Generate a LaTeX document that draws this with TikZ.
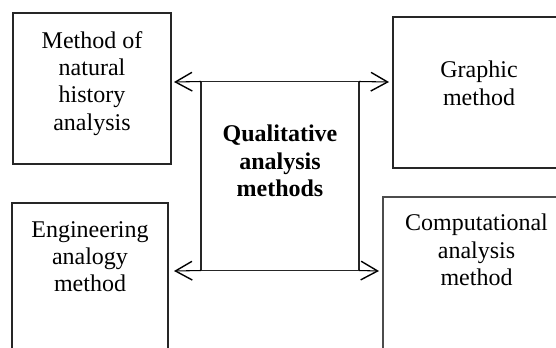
\documentclass[tikz,border=0pt]{standalone}
\usepackage{fontspec}
\setmainfont{Liberation Serif}
\usetikzlibrary{arrows.meta}
\begin{document}
\begin{tikzpicture}[x=0.75pt,y=-0.75pt,
  box/.style={draw=black!85, line width=0.8pt, inner sep=0pt, outer sep=0pt, rectangle},
  lbl/.style={font=\fontsize{18}{20.5}\selectfont, align=center, inner sep=0pt, anchor=north},
  arr/.style={-{Straight Barb[length=12.5pt,width=14pt,line width=1.05pt]}, line width=0.8pt, draw=black}]
\useasboundingbox (0,0) rectangle (556,347);
\clip (0,0) rectangle (556,347);
% boxes
\node[box, minimum width=118.5pt, minimum height=113.25pt] (b1) at (92,88.5) {};
\node[box, minimum width=129pt, minimum height=113.25pt] (b2) at (479,92.5) {};
\node[box, minimum width=117pt, minimum height=147.75pt] (b3) at (90,301.5) {};
\node[box, draw=black!70, minimum width=140.25pt, minimum height=152.25pt] (b4) at (476.5,298.5) {};
\node[box, minimum width=118.5pt, minimum height=141.75pt] (c) at (280,176) {};
% texts
\node[lbl] (t1) at (92,31) {Method of\\natural\\history\\analysis};
\node[lbl] (t2) at (479,61) {Graphic\\method};
\node[lbl] (t3) at (90,221) {Engineering\\analogy\\method};
\node[lbl] (t4) at (476.5,214) {Computational\\analysis\\method};
\node[lbl, font=\fontsize{18}{20.5}\selectfont\bfseries] (tc) at (280,125) {Qualitative\\analysis\\methods};
% arrow ends
\coordinate (e1) at (174,82);
\coordinate (e2) at (389,82);
\coordinate (e3) at (174,271);
\coordinate (e4) at (379,271);
\draw[arr] (c.north west) -- (e1);
\draw[arr] (c.north east) -- (e2);
\draw[arr] (c.south west) -- (e3);
\draw[arr] (c.south east) -- (e4);
\end{tikzpicture}
\end{document}
